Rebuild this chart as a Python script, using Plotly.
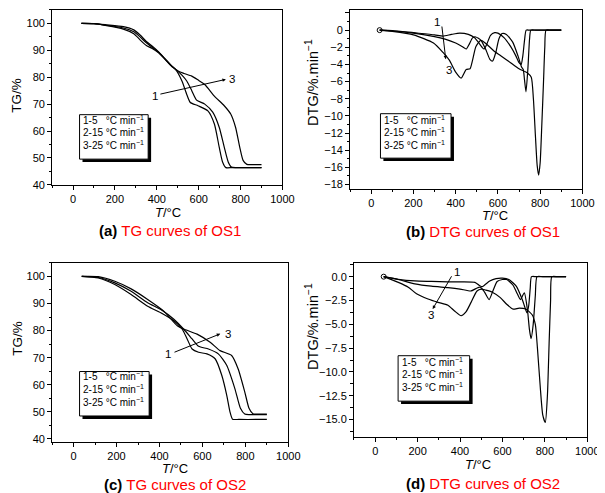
import plotly.graph_objects as go

W, H = 605, 493

def px(x):
    return x / W

def py(y):
    return 1 - y / H

# ---------------- data ----------------
# (a) TG curves of OS1
T_a1 = [40, 100, 160, 240, 290, 320, 350, 380, 410, 440, 470, 490, 520, 543, 560, 597, 644, 675, 698, 714, 730, 760, 900]
TG_a1 = [100, 99.9, 99.2, 97.9, 96.2, 93.9, 91.8, 90.6, 89.0, 86.6, 84.1, 82.8, 78.6, 73.6, 70.6, 69.4, 67.5, 62.6, 54.0, 48.5, 46.4, 46.4, 46.4]
T_a2 = [40, 100, 160, 240, 290, 320, 350, 380, 410, 440, 470, 490, 520, 543, 567, 590, 629, 667, 698, 722, 741, 756, 780, 900]
TG_a2 = [100, 99.9, 99.3, 98.3, 96.9, 95.0, 92.8, 91.0, 89.2, 86.7, 84.2, 82.9, 80.8, 78.6, 75.0, 71.5, 70.0, 67.0, 61.4, 54.0, 48.5, 46.6, 46.4, 46.4]
T_a3 = [40, 100, 160, 240, 290, 320, 350, 380, 410, 440, 470, 504, 530, 567, 600, 629, 675, 722, 753, 776, 796, 812, 830, 860, 900]
TG_a3 = [100, 99.95, 99.5, 98.8, 97.6, 95.7, 93.3, 91.4, 89.3, 86.8, 84.3, 82.2, 81.4, 80.4, 78.8, 77.3, 73.0, 69.4, 66.3, 61.4, 54.0, 49.1, 47.6, 47.5, 47.5]

# (b) DTG curves of OS1
T_b1 = [40, 100, 200, 300, 340, 380, 420, 460, 490, 510, 525, 535, 548, 565, 585, 600, 630, 660, 685, 700, 710, 718, 726, 734, 750, 900]
D_b1 = [0, -0.05, -0.3, -0.55, -0.7, -0.5, -0.35, -0.5, -0.9, -1.5, -2.0, -2.2, -1.6, -0.6, -0.3, -0.35, -0.9, -1.9, -3.0, -3.8, -4.0, -3.0, -1.2, 0, 0, 0]
T_b2 = [40, 100, 200, 300, 350, 400, 430, 450, 465, 480, 495, 520, 545, 562, 575, 590, 605, 620, 640, 670, 695, 712, 720, 726, 733, 742, 750, 756, 780, 900]
D_b2 = [0, -0.1, -0.35, -0.75, -1.05, -1.5, -1.9, -2.2, -1.6, -0.9, -0.8, -1.2, -2.4, -3.4, -3.6, -2.6, -1.0, -0.4, -0.5, -1.4, -3.0, -4.3, -4.6, -5.8, -7.2, -4.5, -1.0, 0, 0, 0]
T_b3 = [40, 100, 200, 295, 340, 370, 400, 426, 450, 468, 480, 496, 519, 540, 580, 620, 660, 700, 740, 758, 768, 778, 786, 793, 800, 808, 816, 822, 828, 850, 900]
D_b3 = [0, -0.15, -0.55, -1.5, -2.6, -3.5, -4.9, -5.6, -4.6, -4.5, -3.5, -1.9, -1.2, -1.5, -2.4, -3.1, -3.8, -4.5, -5.0, -5.5, -8.0, -12.5, -15.8, -16.9, -15.5, -11.0, -6.0, -2.0, 0, 0, 0]

# (c) TG curves of OS2
T_c1 = [38, 115, 192, 268, 345, 406, 467, 506, 529, 552, 582, 621, 659, 690, 713, 728, 740, 770, 900]
TG_c1 = [100, 99.4, 97.0, 93.3, 89.0, 86.6, 83.6, 80.5, 76.9, 73.2, 72.0, 71.4, 69.6, 63.5, 56.2, 50.1, 47.3, 47.2, 47.2]
T_c2 = [38, 115, 192, 268, 345, 406, 467, 513, 552, 582, 628, 674, 713, 751, 777, 797, 820, 900]
TG_c2 = [100, 99.6, 97.6, 94.5, 90.3, 87.8, 84.2, 80.5, 76.9, 74.2, 73.2, 71.4, 67.2, 58.6, 51.3, 49.2, 49.0, 49.0]
T_c3 = [38, 115, 192, 268, 345, 420, 483, 521, 575, 636, 682, 736, 766, 797, 817, 835, 860, 900]
TG_c3 = [100, 99.9, 98.2, 95.4, 91.5, 87.2, 81.8, 80.3, 78.7, 75.7, 72.6, 70.8, 65.9, 57.4, 51.3, 49.3, 49.2, 49.2]

# (d) DTG curves of OS2
T_d1 = [40, 109, 187, 265, 343, 400, 470, 490, 505, 520, 540, 570, 600, 630, 665, 695, 710, 716, 724, 731, 737, 760, 900]
D_d1 = [0, -0.28, -0.45, -0.5, -0.55, -0.55, -0.6, -0.9, -1.05, -0.8, -0.45, -0.2, -0.15, -0.3, -1.0, -2.5, -3.5, -3.8, -3.0, -1.2, 0, 0, 0]
T_d2 = [40, 109, 187, 265, 343, 400, 452, 475, 495, 515, 537, 555, 575, 600, 620, 650, 670, 685, 703, 718, 727, 735, 745, 755, 763, 790, 900]
D_d2 = [0, -0.3, -0.75, -1.0, -1.15, -1.3, -1.5, -1.25, -1.1, -1.6, -2.4, -1.5, -0.5, -0.3, -0.3, -0.9, -1.8, -2.4, -1.7, -3.5, -5.5, -6.5, -5.0, -2.0, 0, 0, 0]
T_d3 = [40, 109, 156, 195, 249, 296, 343, 374, 405, 428, 452, 480, 500, 520, 550, 590, 620, 650, 680, 710, 740, 755, 765, 778, 790, 802, 812, 820, 827, 833, 860, 900]
D_d3 = [0, -0.6, -1.1, -1.8, -2.35, -2.7, -3.0, -3.6, -4.1, -3.7, -2.7, -1.5, -1.3, -1.4, -1.6, -2.2, -2.9, -3.4, -3.3, -3.4, -4.0, -5.0, -7.5, -11.5, -14.5, -15.3, -12.5, -7.0, -2.5, 0, 0, 0]

X_TICKS = [0, 200, 400, 600, 800, 1000]
LEGEND_LINES = ["1-5\u00a0\u00a0\u00a0°C min<sup>−1</sup>", "2-15 °C min<sup>−1</sup>", "3-25 °C min<sup>−1</sup>"]
CAPTIONS = ["(a)", "TG curves of OS1", "(b)", "DTG curves of OS1",
            "(c)", "TG curves of OS2", "(d)", "DTG curves of OS2"]

FONT = "Liberation Sans, Arial, Helvetica, sans-serif"
TICK_SIZE = 11

fig = go.Figure()

series = [
    ("x", "y", [(T_a1, TG_a1), (T_a2, TG_a2), (T_a3, TG_a3)]),
    ("x2", "y2", [(T_b1, D_b1), (T_b2, D_b2), (T_b3, D_b3)]),
    ("x3", "y3", [(T_c1, TG_c1), (T_c2, TG_c2), (T_c3, TG_c3)]),
    ("x4", "y4", [(T_d1, D_d1), (T_d2, D_d2), (T_d3, D_d3)]),
]
for xa, ya, curves in series:
    for t, v in curves:
        fig.add_trace(go.Scatter(x=t, y=v, mode="lines", xaxis=xa, yaxis=ya,
                                 line=dict(color="black", width=1.2, shape="spline", smoothing=0.6),
                                 showlegend=False, hoverinfo="skip"))
# start markers on DTG plots
for xa, ya, t, v in [("x2", "y2", T_b1, D_b1), ("x4", "y4", T_d1, D_d1)]:
    fig.add_trace(go.Scatter(x=[t[0]], y=[v[0]], mode="markers", xaxis=xa, yaxis=ya,
                             marker=dict(symbol="circle-open", size=5, color="black", line=dict(width=1)),
                             showlegend=False, hoverinfo="skip"))

def xaxis(x0, x1, y_anchor):
    return dict(domain=[px(x0), px(x1)], range=[-100, 1000], anchor=y_anchor,
                tickmode="array", tickvals=X_TICKS,
                showline=True, linecolor="black", linewidth=1, mirror=True,
                ticks="outside", ticklen=4, tickwidth=1, tickcolor="black",
                minor=dict(ticks="outside", ticklen=2.5, tickwidth=1, tickcolor="black", dtick=100, tick0=0, showgrid=False),
                showgrid=False, zeroline=False, tickfont=dict(size=TICK_SIZE, color="black", family=FONT))

def yaxis(y0, y1, rng, dtick, mdtick, x_anchor, fmt=None):
    d = dict(domain=[py(y1), py(y0)], range=rng, anchor=x_anchor,
             tick0=0, dtick=dtick,
             showline=True, linecolor="black", linewidth=1, mirror=True,
             ticks="outside", ticklen=4, tickwidth=1, tickcolor="black",
             minor=dict(ticks="outside", ticklen=2.5, tickwidth=1, tickcolor="black", dtick=mdtick, tick0=0, showgrid=False),
             showgrid=False, zeroline=False, tickfont=dict(size=TICK_SIZE, color="black", family=FONT))
    if fmt:
        d["tickformat"] = fmt
    return d

fig.update_layout(
    width=W, height=H, margin=dict(l=0, r=0, t=0, b=0),
    paper_bgcolor="white", plot_bgcolor="white",
    font=dict(family=FONT, color="black"),
    xaxis=xaxis(45, 280, "y"),
    yaxis=yaxis(2, 179, [40, 105], 10, 5, "x"),
    xaxis2=xaxis(349, 586, "y2"),
    yaxis2=yaxis(2, 183, [-18.5, 2.35], 2, 1, "x2"),
    xaxis3=xaxis(45, 286, "y3"),
    yaxis3=yaxis(258, 439, [39, 105], 10, 5, "x3"),
    xaxis4=xaxis(353, 591, "y4"),
    yaxis4=yaxis(258, 434, [-16.8, 1.45], 2.5, 1.25, "x4", fmt=".1f"),
)

ann = []
shapes = []

def paper_text(x, y, text, size, angle=0, xanchor="center", yanchor="middle", color="black"):
    ann.append(dict(x=px(x), y=py(y), xref="paper", yref="paper", text=text, showarrow=False,
                    font=dict(size=size, color=color, family=FONT), textangle=angle,
                    xanchor=xanchor, yanchor=yanchor, borderpad=0))

# axis titles
for (x, y) in [(163, 207), (497, 210.5), (170, 466.5), (480, 462.5)]:
    paper_text(x, y, "<i>T</i>/°C", 13)
paper_text(9, 88, "TG/%", 13.5, angle=-90)
paper_text(10, 334, "TG/%", 13.5, angle=-90)
paper_text(310, 75, "DTG/%.min<sup>−1</sup>", 14.5, angle=-90)
paper_text(310, 322, "DTG/%.min<sup>−1</sup>", 14.5, angle=-90)

# captions
for i, (x, y) in enumerate([(165, 225), (485, 226), (170, 482), (485, 481)]):
    lab, txt = CAPTIONS[2 * i], CAPTIONS[2 * i + 1]
    paper_text(x, y, "<b>" + lab + "</b> <span style='color:#ff0000'>" + txt + "</span>", 15)

# legend boxes
boxes = [((73, 108, 143, 153), 76, [113, 126, 139]),
         ((380, 107, 452, 152), 383, [113, 126, 139]),
         ((73, 368, 144, 413), 76, [373, 386, 399]),
         ((398, 352, 471, 398), 401, [358, 371, 384])]
for (x0, y0, x1, y1), tx, tys in boxes:
    shapes.append(dict(type="rect", xref="paper", yref="paper", x0=px(x0 + 3), x1=px(x1 + 3),
                       y0=py(y1 + 3), y1=py(y0 + 3), fillcolor="black", line=dict(width=0)))
    shapes.append(dict(type="rect", xref="paper", yref="paper", x0=px(x0), x1=px(x1),
                       y0=py(y1), y1=py(y0), fillcolor="white", line=dict(color="black", width=1)))
    for line, ty in zip(LEGEND_LINES, tys):
        paper_text(tx, ty, line, 10, xanchor="left")

# arrows + labels (data coordinates)
arrows = [("x", "y", (410, 73.6), (730, 79.2), (391, 73.0), (757, 79.3)),
          ("x2", "y2", (334, 0.6), (353, -3.4), (311, 0.96), (367, -4.6)),
          ("x3", "y3", (463, 71.8), (683, 78.8), (440, 71.5), (717, 78.8)),
          ("x4", "y4", (364, 0.2), (271, -3.4), (388, 0.5), (263, -4.0))]
for xa, ya, tail, head, l1, l3 in arrows:
    ann.append(dict(x=head[0], y=head[1], ax=tail[0], ay=tail[1], xref=xa, yref=ya,
                    axref=xa, ayref=ya, text="", showarrow=True, arrowhead=2, arrowsize=0.7,
                    arrowwidth=1, arrowcolor="black"))
    for (lx, ly), t in [(l1, "1"), (l3, "3")]:
        ann.append(dict(x=lx, y=ly, xref=xa, yref=ya, text=t, showarrow=False, borderpad=0,
                        font=dict(size=11.5, color="black", family=FONT)))

fig.update_layout(annotations=ann, shapes=shapes)
fig.write_html("out.html")
